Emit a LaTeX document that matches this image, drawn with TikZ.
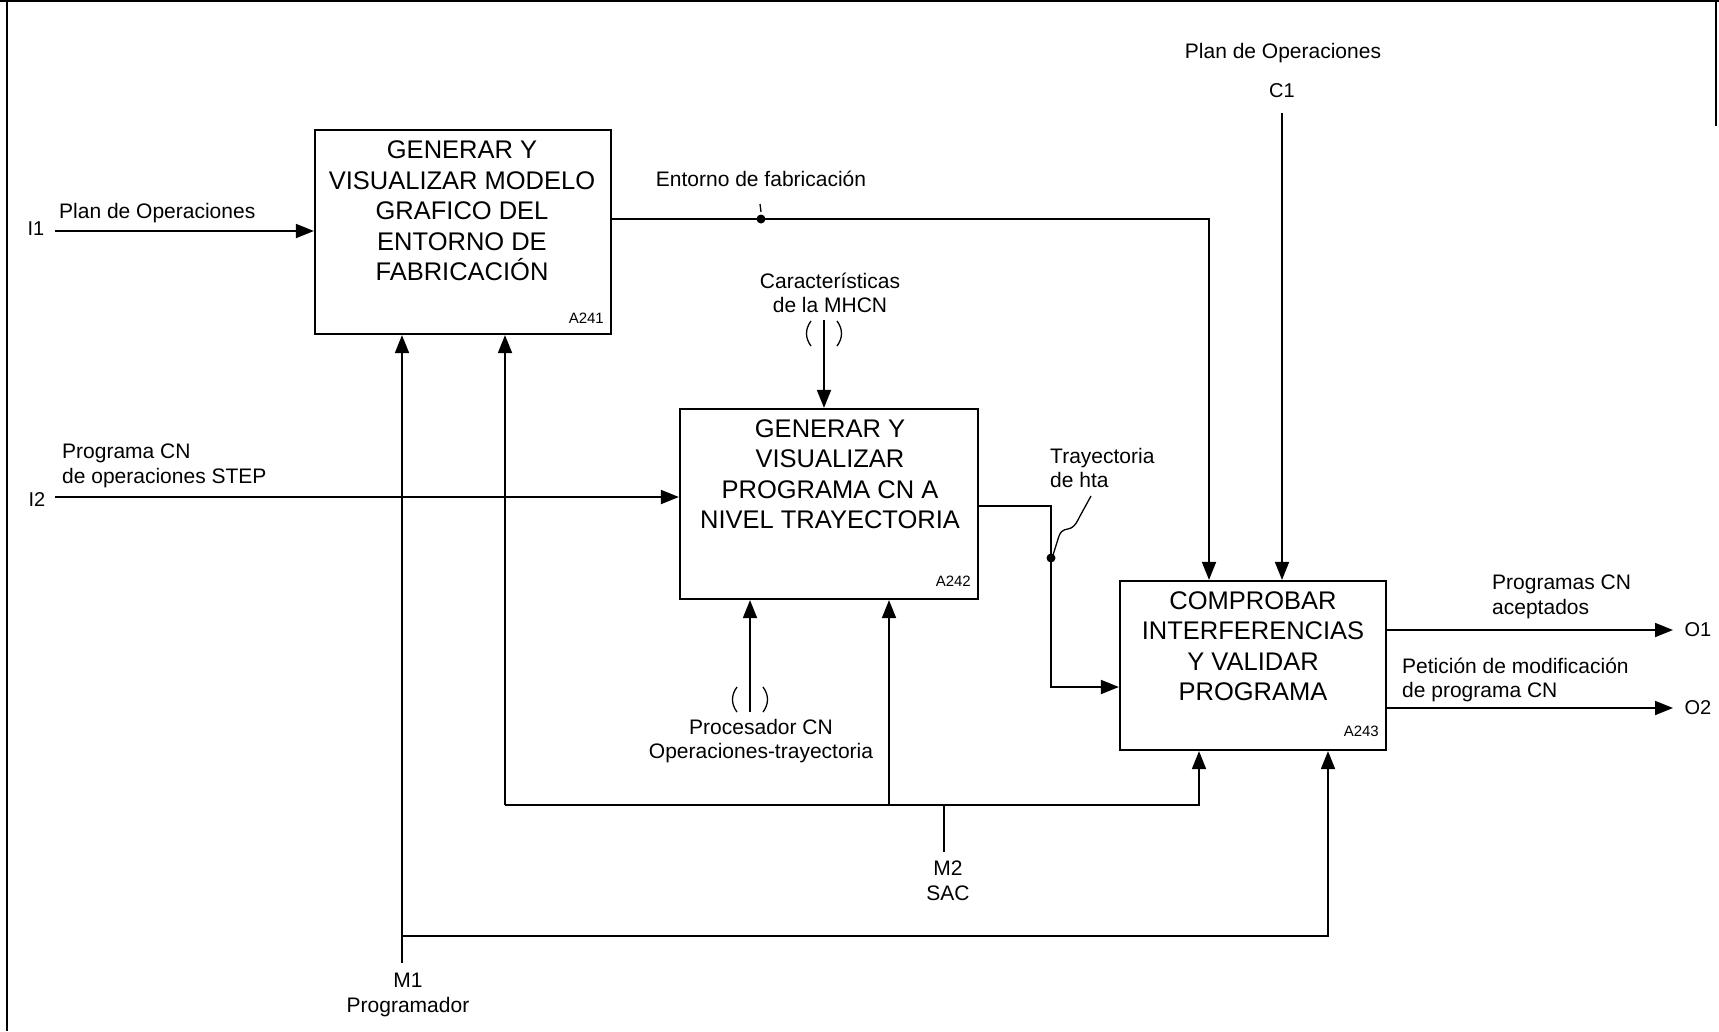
\documentclass[tikz,border=0pt]{standalone}
\usepackage{fontspec}
\setmainfont{Liberation Sans}
\usetikzlibrary{arrows.meta}
\begin{document}
\begin{tikzpicture}[x=1pt,y=-1pt,
  blk/.style={draw,line width=2.2pt,inner sep=0pt},
  blktext/.style={align=center,inner sep=0pt,font=\fontsize{25.5}{30.5}\selectfont},
  lbl/.style={inner sep=0pt,font=\fontsize{21}{24.5}\selectfont},
  tag/.style={inner sep=0pt,font=\fontsize{20}{24}\selectfont},
  idx/.style={inner sep=0pt,font=\fontsize{15}{18}\selectfont},
  arr/.style={line width=1.8pt,-{Triangle[length=18pt,width=14pt]}},
  wire/.style={line width=1.8pt},
  thinwire/.style={line width=1.3pt},
  joint/.style={circle,fill,inner sep=0pt,minimum size=9pt}
]
\useasboundingbox (0,0) rectangle (1719,1031);

% sheet frame
\draw[line width=2pt] (0,1) -- (1719,1);
\draw[line width=2pt] (7,0) -- (7,1031);
\draw[line width=2pt] (1716,0) -- (1716,126);

% activity boxes
\node[blk,minimum width=296pt,minimum height=204pt] (b1) at (463,232) {};
\node[blk,minimum width=298pt,minimum height=190pt] (b2) at (829,504) {};
\node[blk,minimum width=266pt,minimum height=169pt] (b3) at (1253,665.5) {};

\node[blktext] (b1t) at (462,211) {GENERAR Y\\VISUALIZAR MODELO\\GRAFICO DEL\\ENTORNO DE\\FABRICACIÓN};
\node[blktext] (b2t) at (830,474) {GENERAR Y\\VISUALIZAR\\PROGRAMA CN A\\NIVEL TRAYECTORIA};
\node[blktext] (b3t) at (1253,646) {COMPROBAR\\INTERFERENCIAS\\Y VALIDAR\\PROGRAMA};

\node[idx,anchor=east] (b1n) at (604,318) {A241};
\node[idx,anchor=east] (b2n) at (971,581) {A242};
\node[idx,anchor=east] (b3n) at (1379,731) {A243};

% inputs
\coordinate (i1) at (55,231);
\coordinate (i2) at (55,497);
\draw[arr] (i1) -- (i1 -| b1.west);
\draw[arr] (i2) -- (i2 -| b2.west);
\node[tag] (i1l) at (36,229) {I1};
\node[tag] (i2l) at (37,500) {I2};
\node[lbl,anchor=west] (i1t) at (59,213) {Plan de Operaciones};
\node[lbl,anchor=west,align=left] (i2t) at (62,466) {Programa CN\\de operaciones STEP};

% control C1
\coordinate (c1) at (1282,113);
\draw[arr] (c1) -- (c1 |- b3.north);
\node[tag] (c1l) at (1282,91) {C1};
\node[lbl] (c1t) at (1283,53) {Plan de Operaciones};

% manufacturing environment A241 -> A243
\coordinate (ent) at (1209,219);
\draw[arr] (b1.east |- ent) -| (b3.north -| ent);
\node[joint] (d1) at (761,219) {};
\draw[thinwire] (760,204) -- (761,212);
\node[lbl] (entt) at (761,179) {Entorno de fabricación};

% machine characteristics (tunnelled)
\coordinate (mh) at (824,320);
\draw[arr] (mh) -- (mh |- b2.north);
\draw[thinwire] (811,321) .. controls (805,329) and (805,338) .. (811,346);
\draw[thinwire] (837,321) .. controls (843,329) and (843,338) .. (837,346);
\node[lbl,align=center] (mht) at (830,293) {Características\\de la MHCN};

% tool path A242 -> A243
\coordinate (tr) at (1051,506);
\coordinate (trb) at (1051,687);
\draw[arr] (b2.east |- tr) -- (tr) -- (trb) -- (trb -| b3.west);
\node[joint] (d2) at (1051,558) {};
\draw[thinwire] (1053,555) -- (1059,536) .. controls (1062,528) and (1067,530) .. (1071,528)
  .. controls (1075,526) and (1077,522) .. (1080,516) -- (1091,496);
\node[lbl,anchor=west,align=left] (trt) at (1050,468) {Trayectoria\\de hta};

% outputs
\coordinate (o1) at (1673,630);
\coordinate (o2) at (1673,708);
\draw[arr] (o1 -| b3.east) -- (o1);
\draw[arr] (o2 -| b3.east) -- (o2);
\node[tag] (o1l) at (1698,630) {O1};
\node[tag] (o2l) at (1698,708) {O2};
\node[lbl,anchor=west,align=left] (o1t) at (1492,597) {Programas CN\\aceptados};
\node[lbl,anchor=west,align=left] (o2t) at (1402,680) {Petición de modificación\\de programa CN};

% NC processor (tunnelled)
\coordinate (pc) at (750,712);
\draw[arr] (pc) -- (pc |- b2.south);
\draw[thinwire] (737,687) .. controls (731,695) and (731,704) .. (737,712);
\draw[thinwire] (763,687) .. controls (769,695) and (769,704) .. (763,712);
\node[lbl,align=center] (pct) at (761,741) {Procesador CN\\Operaciones-trayectoria};

% mechanism M1
\coordinate (m1) at (402,963);
\coordinate (m1b) at (402,936);
\coordinate (m1r) at (1328,936);
\draw[arr] (m1) -- (m1 |- b1.south);
\draw[arr] (m1b) -- (m1r) -- (m1r |- b3.south);
\node[lbl,align=center] (m1t) at (408,995) {M1\\Programador};

% mechanism M2
\coordinate (m2) at (944,852);
\coordinate (m2j) at (944,805);
\coordinate (m2l) at (505,805);
\coordinate (m2c) at (889,805);
\coordinate (m2r) at (1199,805);
\draw[wire] (m2) -- (m2j);
\draw[arr] (m2l) -- (m2r) -- (m2r |- b3.south);
\draw[arr] (m2l) -- (m2l |- b1.south);
\draw[arr] (m2c) -- (m2c |- b2.south);
\node[lbl,align=center] (m2t) at (948,881) {M2\\SAC};

\end{tikzpicture}
\end{document}
